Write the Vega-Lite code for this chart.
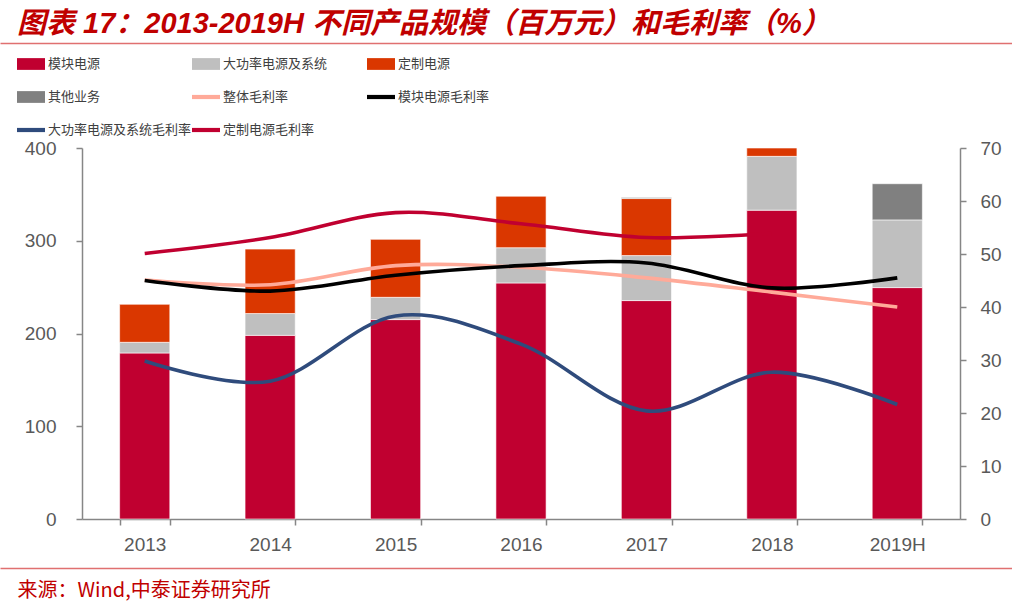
{
  "$schema": "https://vega.github.io/schema/vega-lite/v6.json",
  "autosize": "none",
  "width": 878,
  "height": 371,
  "padding": {"left": 82, "top": 148, "right": 52, "bottom": 87},
  "background": "white",
  "config": {"view": {"stroke": null}, "font": "Liberation Sans"},
  "title": {
    "text": "图表 17：2013-2019H 不同产品规模（百万元）和毛利率（%）",
    "anchor": "start",
    "frame": "group",
    "dx": -65,
    "font": "Liberation Sans, Noto Sans CJK SC",
    "fontSize": 29,
    "fontWeight": "bold",
    "fontStyle": "italic",
    "color": "#C00000"
  },
  "datasets": {
    "bars": [
      {"year": "2013", "s": "模块电源", "v": 179},
      {"year": "2013", "s": "大功率电源及系统", "v": 11.5},
      {"year": "2013", "s": "定制电源", "v": 41},
      {"year": "2014", "s": "模块电源", "v": 198},
      {"year": "2014", "s": "大功率电源及系统", "v": 23.5},
      {"year": "2014", "s": "定制电源", "v": 69.5},
      {"year": "2015", "s": "模块电源", "v": 215},
      {"year": "2015", "s": "大功率电源及系统", "v": 24},
      {"year": "2015", "s": "定制电源", "v": 62.5},
      {"year": "2016", "s": "模块电源", "v": 254.5},
      {"year": "2016", "s": "大功率电源及系统", "v": 38},
      {"year": "2016", "s": "定制电源", "v": 55.5},
      {"year": "2017", "s": "模块电源", "v": 235.5},
      {"year": "2017", "s": "大功率电源及系统", "v": 48.5},
      {"year": "2017", "s": "定制电源", "v": 61.5},
      {"year": "2017", "s": "其他业务", "v": 1},
      {"year": "2018", "s": "模块电源", "v": 333},
      {"year": "2018", "s": "大功率电源及系统", "v": 58},
      {"year": "2018", "s": "定制电源", "v": 9},
      {"year": "2019H", "s": "模块电源", "v": 249.5},
      {"year": "2019H", "s": "大功率电源及系统", "v": 73},
      {"year": "2019H", "s": "其他业务", "v": 39}
    ],
    "lines": [
      {"year": "2013", "s": "大功率电源及系统毛利率", "v": 29.8},
      {"year": "2014", "s": "大功率电源及系统毛利率", "v": 26.0},
      {"year": "2015", "s": "大功率电源及系统毛利率", "v": 38.3},
      {"year": "2016", "s": "大功率电源及系统毛利率", "v": 33.0},
      {"year": "2017", "s": "大功率电源及系统毛利率", "v": 20.4},
      {"year": "2018", "s": "大功率电源及系统毛利率", "v": 27.7},
      {"year": "2019H", "s": "大功率电源及系统毛利率", "v": 21.6},
      {"year": "2013", "s": "定制电源毛利率", "v": 50.1},
      {"year": "2014", "s": "定制电源毛利率", "v": 53.1},
      {"year": "2015", "s": "定制电源毛利率", "v": 57.8},
      {"year": "2016", "s": "定制电源毛利率", "v": 55.7},
      {"year": "2017", "s": "定制电源毛利率", "v": 53.1},
      {"year": "2018", "s": "定制电源毛利率", "v": 53.9},
      {"year": "2013", "s": "整体毛利率", "v": 45.1},
      {"year": "2014", "s": "整体毛利率", "v": 44.2},
      {"year": "2015", "s": "整体毛利率", "v": 47.8},
      {"year": "2016", "s": "整体毛利率", "v": 47.5},
      {"year": "2017", "s": "整体毛利率", "v": 45.5},
      {"year": "2018", "s": "整体毛利率", "v": 42.8},
      {"year": "2019H", "s": "整体毛利率", "v": 40.0},
      {"year": "2013", "s": "模块电源毛利率", "v": 45.0},
      {"year": "2014", "s": "模块电源毛利率", "v": 43.0},
      {"year": "2015", "s": "模块电源毛利率", "v": 46.0},
      {"year": "2016", "s": "模块电源毛利率", "v": 47.8},
      {"year": "2017", "s": "模块电源毛利率", "v": 48.3},
      {"year": "2018", "s": "模块电源毛利率", "v": 43.6},
      {"year": "2019H", "s": "模块电源毛利率", "v": 45.5}
    ]
  },
  "layer": [
    {
      "data": {"name": "bars"},
      "transform": [
        {"calculate": "indexof(['模块电源','大功率电源及系统','定制电源','其他业务'], datum.s)", "as": "ord"}
      ],
      "mark": {"type": "bar", "stroke": "white", "strokeWidth": 0.6},
      "encoding": {
        "x": {
          "field": "year",
          "type": "nominal",
          "scale": {"domain": ["2013", "2014", "2015", "2016", "2017", "2018", "2019H"], "paddingInner": 0.6, "paddingOuter": 0.3},
          "axis": {
            "title": null,
            "labelAngle": 0,
            "labelFont": "Liberation Sans",
            "labelFontSize": 19,
            "labelColor": "#595959",
            "labelPadding": 10,
            "domainColor": "#868686",
            "domainWidth": 1.5,
            "tickColor": "#868686",
            "tickWidth": 1.5,
            "tickSize": 6,
            "tickBand": "extent"
          }
        },
        "y": {
          "field": "v",
          "type": "quantitative",
          "stack": "zero",
          "scale": {"domain": [0, 400]},
          "axis": {
            "title": null,
            "values": [0, 100, 200, 300, 400],
            "grid": false,
            "labelFont": "Liberation Sans",
            "labelFontSize": 19,
            "labelColor": "#595959",
            "labelPadding": 20,
            "domainColor": "#868686",
            "domainWidth": 1.5,
            "tickColor": "#868686",
            "tickWidth": 1.5,
            "tickSize": 6
          }
        },
        "order": {"field": "ord", "type": "quantitative"},
        "color": {
          "field": "s",
          "type": "nominal",
          "scale": {
            "domain": ["模块电源", "大功率电源及系统", "定制电源", "其他业务", "整体毛利率", "模块电源毛利率", "大功率电源及系统毛利率", "定制电源毛利率"],
            "range": ["#C00030", "#BFBFBF", "#DA3700", "#808080", "#FFAA99", "#000000", "#2F4B7C", "#C00030"]
          },
          "legend": {
            "orient": "none",
            "legendX": -65,
            "legendY": -98,
            "columns": 3,
            "direction": "horizontal",
            "gridAlign": "all",
            "title": null,
            "padding": 0,
            "labelFont": "Noto Sans CJK SC",
            "labelFontSize": 13,
            "labelColor": "#404040",
            "labelOffset": 3,
            "symbolSize": 784,
            "symbolStrokeWidth": 0,
            "symbolType": {"expr": "indexof(datum.value, '毛利率') >= 0 ? 'M-1,-0.15H1V0.15H-1Z' : 'M-1,-0.42H1V0.42H-1Z'"},
            "columnPadding": 0,
            "rowPadding": 12
          }
        }
      }
    },
    {
      "data": {"name": "lines"},
      "mark": {"type": "line", "interpolate": "cardinal", "strokeWidth": 3.6},
      "encoding": {
        "x": {
          "field": "year",
          "type": "nominal",
          "scale": {"domain": ["2013", "2014", "2015", "2016", "2017", "2018", "2019H"], "paddingInner": 0.6, "paddingOuter": 0.3},
          "axis": null
        },
        "y": {
          "field": "v",
          "type": "quantitative",
          "scale": {"domain": [0, 70]},
          "axis": {
            "orient": "right",
            "title": null,
            "values": [0, 10, 20, 30, 40, 50, 60, 70],
            "grid": false,
            "labelFont": "Liberation Sans",
            "labelFontSize": 19,
            "labelColor": "#595959",
            "labelPadding": 14,
            "domainColor": "#868686",
            "domainWidth": 1.5,
            "tickColor": "#868686",
            "tickWidth": 1.5,
            "tickSize": 6
          }
        },
        "color": {"field": "s", "type": "nominal"}
      }
    },
    {
      "data": {"name": "lines"},
      "mark": {"type": "point", "opacity": 0},
      "encoding": {
        "x": {
          "field": "year",
          "type": "nominal",
          "scale": {"range": [-82, 930]},
          "axis": {
            "orient": "top",
            "offset": 105,
            "labels": false,
            "ticks": false,
            "title": null,
            "domainColor": "#E07070",
            "domainWidth": 1.5
          }
        }
      }
    },
    {
      "data": {"name": "lines"},
      "mark": {"type": "point", "opacity": 0},
      "encoding": {
        "x": {
          "field": "year",
          "type": "nominal",
          "scale": {"range": [-82, 930]},
          "axis": {
            "orient": "bottom",
            "offset": 49,
            "labels": false,
            "ticks": false,
            "title": "来源：Wind,中泰证券研究所",
            "titleAnchor": "start",
            "titleAlign": "left",
            "titleBaseline": "middle",
            "titleX": -65,
            "titleY": 22,
            "titleColor": "#C00000",
            "titleFont": "Noto Sans CJK SC",
            "titleFontSize": 20,
            "titleFontWeight": "normal",
            "domainColor": "#E07070",
            "domainWidth": 1.5
          }
        }
      }
    }
  ],
  "resolve": {"scale": {"x": "independent", "y": "independent"}, "axis": {"x": "independent"}}
}
